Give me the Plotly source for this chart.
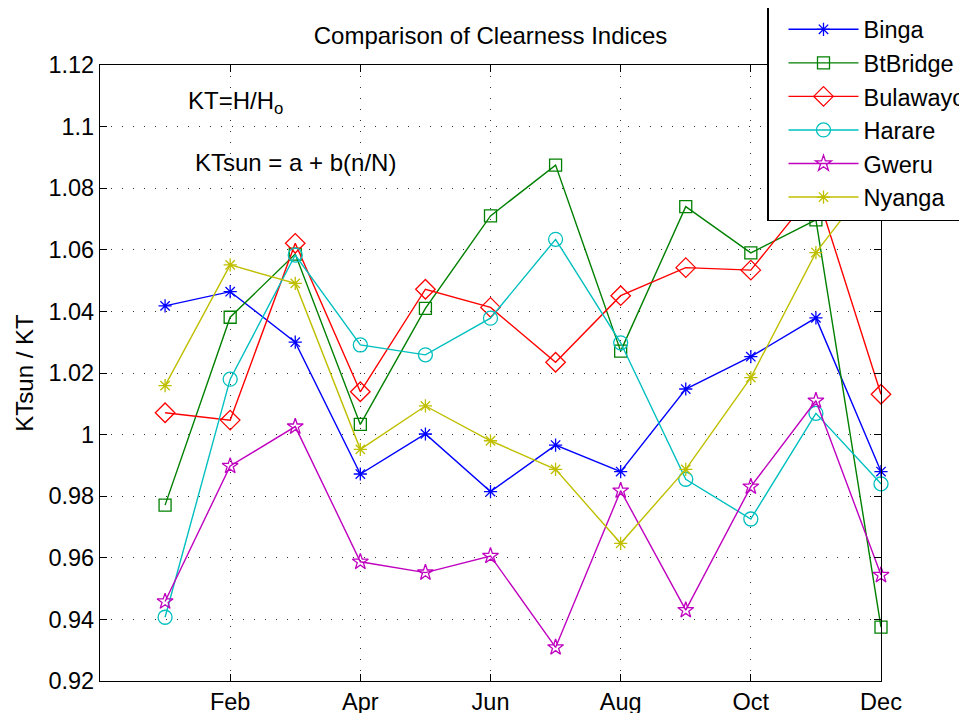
import plotly.graph_objects as go

month_pos = [1, 2, 3, 4, 5, 6, 7, 8, 9, 10, 11, 12]
tick_pos = [2, 4, 6, 8, 10, 12]
tick_labels = ["Feb", "Apr", "Jun", "Aug", "Oct", "Dec"]
y_ticks = [0.92, 0.94, 0.96, 0.98, 1.0, 1.02, 1.04, 1.06, 1.08, 1.1, 1.12]
y_tick_labels = ["0.92", "0.94", "0.96", "0.98", "1", "1.02", "1.04", "1.06", "1.08", "1.1", "1.12"]

binga = [1.0418, 1.0464, 1.0300, 0.9872, 1.0002, 0.9815, 0.9966, 0.9880, 1.0148, 1.0253, 1.0379, 0.9880]
btbridge = [0.9771, 1.0381, 1.0586, 1.0033, 1.0410, 1.0710, 1.0875, 1.0271, 1.0740, 1.0590, 1.0697, 0.9375]
bulawayo = [1.0071, 1.0047, 1.0621, 1.0139, 1.0472, 1.0413, 1.0235, 1.0451, 1.0542, 1.0534, 1.0796, 1.0131]
harare = [0.9407, 1.0180, 1.0583, 1.0291, 1.0259, 1.0378, 1.0634, 1.0298, 0.9855, 0.9726, 1.0069, 0.9840]
gweru = [0.9458, 0.9898, 1.0026, 0.9587, 0.9552, 0.9606, 0.9309, 0.9818, 0.9430, 0.9831, 1.0110, 0.9544]
nyanga = [1.0159, 1.0551, 1.0491, 0.9952, 1.0093, 0.9980, 0.9887, 0.9647, 0.9887, 1.0185, 1.0591, 1.0865]

series = [
    ("Binga", binga, "#0000ff", "asterisk-open", 11),
    ("BtBridge", btbridge, "#008000", "square-open", 12),
    ("Bulawayo", bulawayo, "#ff0000", "diamond-open", 15),
    ("Harare", harare, "#00bfbf", "circle-open", 14),
    ("Gweru", gweru, "#bf00bf", "star-open", 12),
    ("Nyanga", nyanga, "#bfbf00", "asterisk-open", 11),
]

FONT = "Liberation Sans, Arial, Helvetica, sans-serif"

fig = go.Figure()
for name, vals, col, sym, sz in series:
    fig.add_trace(go.Scatter(
        x=month_pos, y=vals, name=name, mode="lines+markers",
        line=dict(color=col, width=1.4),
        marker=dict(symbol=sym, size=sz, color=col, line=dict(color=col, width=1.3)),
        cliponaxis=False,
    ))

axis_common = dict(
    showline=True, linecolor="black", linewidth=1.2, mirror="ticks",
    ticks="inside", ticklen=7, tickcolor="black", tickwidth=1,
    showgrid=True, gridcolor="#333333", gridwidth=1, griddash="1px,10px",
    zeroline=False, tickfont=dict(family=FONT, size=23.5, color="black"),
)

fig.update_xaxes(range=[0, 12], tickmode="array", tickvals=tick_pos, ticktext=tick_labels,
                 ticklabelstandoff=0, **axis_common)
fig.update_yaxes(range=[0.92, 1.12], tickmode="array", tickvals=y_ticks, ticktext=y_tick_labels,
                 ticklabelstandoff=0,
                 title=dict(text="KTsun / KT", font=dict(family=FONT, size=24, color="black"), standoff=8),
                 **axis_common)

fig.add_annotation(x=1.32, y=1.1077, xref="x", yref="y", text="KT=H/H<sub>o</sub>",
                   showarrow=False, xanchor="left", yanchor="middle",
                   font=dict(family=FONT, size=24, color="black"))
fig.add_annotation(x=1.43, y=1.0885, xref="x", yref="y", text="KTsun = a + b(n/N)",
                   showarrow=False, xanchor="left", yanchor="middle",
                   font=dict(family=FONT, size=24, color="black"))

W, H = 967, 705
fig.update_layout(
    width=W, height=H,
    paper_bgcolor="white", plot_bgcolor="white",
    margin=dict(l=92, r=94, t=57, b=32, autoexpand=False),
    title=dict(text="Comparison of Clearness Indices", x=0.5, xref="paper", xanchor="center",
               y=1 - 28 / H, yanchor="middle", font=dict(family=FONT, size=24, color="black")),
    font=dict(family=FONT, size=24, color="black"),
    showlegend=True,
    legend=dict(x=(759 - 92) / 781, xanchor="left", y=(673 + 2) / 616, yanchor="top",
                bgcolor="white", bordercolor="black", borderwidth=1.5,
                font=dict(family=FONT, size=23.5, color="black"),
                itemwidth=70, indentation=15, tracegroupgap=0),
)

fig.write_html("out.html")
